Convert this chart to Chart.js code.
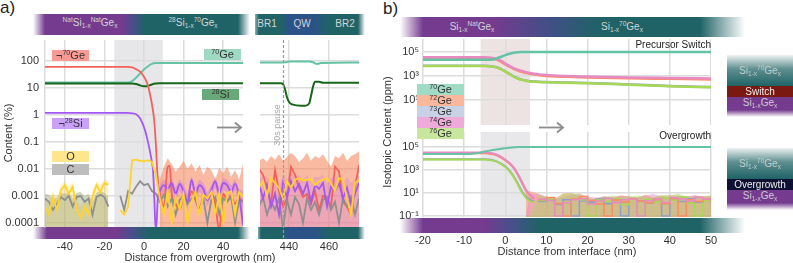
<!DOCTYPE html>
<html><head><meta charset="utf-8">
<script src="https://cdn.jsdelivr.net/npm/chart.js@4.4.1/dist/chart.umd.min.js"></script>
<style>
html,body{margin:0;padding:0;background:#fff;}
body{width:793px;height:263px;position:relative;overflow:hidden;font-family:"Liberation Sans",Arial,sans-serif;color:#333;}
canvas{position:absolute;}
.band{position:absolute;}
.bt{position:absolute;color:#d4d4d4;font-size:10px;line-height:12px;white-space:nowrap;transform:translate(-50%,0);}
sup,sub{font-size:0.65em;line-height:0;position:relative;vertical-align:baseline;}
sup{top:-0.55em;} sub{top:0.35em;}
.lg{position:absolute;height:11px;font-size:11px;line-height:11px;text-align:center;color:#333;white-space:nowrap;}
.rot{position:absolute;transform:translate(-50%,-50%) rotate(-90deg);white-space:nowrap;}
.t{position:absolute;white-space:nowrap;}
.blk{position:absolute;left:727px;width:66px;text-align:center;font-size:10px;white-space:nowrap;}
</style></head>
<body>
<!-- bands (behind charts) -->
<div class="band" style="left:33px;top:14px;width:217px;height:21px;background:linear-gradient(to right,rgba(116,59,143,0) 0px,#743b8f 12px,#743b8f 90px,#46508a 101px,#1f6366 112px,#1f6366 205px,rgba(31,99,102,0) 217px)"></div>
<div class="band" style="left:255px;top:14px;width:110px;height:21px;background:linear-gradient(to right,rgba(31,99,102,0.5) 0px,#1f6366 4px,#1f6366 27px,#2c5388 33px,#2c5388 58px,#1f6366 75px,#1f6366 103px,rgba(31,99,102,0) 110px)"></div>
<div class="band" style="left:33px;top:227px;width:217px;height:12px;background:linear-gradient(to right,rgba(116,59,143,0) 0px,#743b8f 14px,#743b8f 84px,#46508a 100px,#1f6366 117px,#1f6366 205px,rgba(31,99,102,0) 217px)"></div>
<div class="band" style="left:258px;top:227px;width:107px;height:12px;background:linear-gradient(to right,rgba(31,99,102,0.5) 0px,#1f6366 3px,#1f6366 24px,#2c5388 30px,#2c5388 55px,#1f6366 72px,#1f6366 100px,rgba(31,99,102,0) 107px)"></div>
<div class="band" style="left:400px;top:17px;width:345px;height:20px;background:linear-gradient(to right,rgba(116,59,143,0) 0px,#743b8f 23px,#743b8f 95px,#414f86 150px,#1f6366 200px,#1f6366 300px,rgba(31,99,102,0) 345px)"></div>
<div class="band" style="left:400px;top:218px;width:345px;height:15px;background:linear-gradient(to right,rgba(116,59,143,0) 0px,#743b8f 23px,#743b8f 85px,#46508a 112px,#1f6366 140px,#1f6366 300px,rgba(31,99,102,0) 345px)"></div>

<canvas id="aL" width="243" height="223" style="left:0;top:40px"></canvas>
<canvas id="aR" width="99" height="223" style="left:260px;top:40px"></canvas>
<canvas id="bT" width="321" height="86" style="left:390px;top:39px"></canvas>
<canvas id="bB" width="331" height="131" style="left:390px;top:132px"></canvas>

<!-- band texts -->
<div class="bt" style="left:90px;top:17px"><sup>Nat</sup>Si<sub>1-x</sub><sup>Nat</sup>Ge<sub>x</sub></div>
<div class="bt" style="left:193px;top:17px"><sup>28</sup>Si<sub>1-x</sub><sup>70</sup>Ge<sub>x</sub></div>
<div class="bt" style="left:267px;top:18px">BR1</div>
<div class="bt" style="left:302px;top:18px">QW</div>
<div class="bt" style="left:345px;top:18px">BR2</div>
<div class="bt" style="left:472px;top:21px">Si<sub>1-x</sub><sup>Nat</sup>Ge<sub>x</sub></div>
<div class="bt" style="left:622px;top:21px">Si<sub>1-x</sub><sup>70</sup>Ge<sub>x</sub></div>

<!-- panel labels / titles -->
<div class="t" style="left:0;top:-2px;font-size:17px;color:#222">a)</div>
<div class="t" style="left:383px;top:-1px;font-size:17px;color:#222">b)</div>
<div class="rot" style="left:8px;top:133px;font-size:11px">Content (%)</div>
<div class="rot" style="left:387px;top:132px;font-size:11px">Isotopic Content (ppm)</div>
<div class="t" style="left:200px;top:251px;font-size:11px;transform:translateX(-50%)">Distance from overgrowth (nm)</div>
<div class="t" style="left:567px;top:245px;font-size:11px;transform:translateX(-50%)">Distance from interface (nm)</div>
<div class="rot" style="left:277px;top:125px;font-size:9px;color:#a8a8a8">30s pause</div>
<div class="t" style="left:711px;top:39px;font-size:10px;color:#222;transform:translateX(-100%)">Precursor Switch</div>
<div class="t" style="left:711px;top:130px;font-size:10px;color:#222;transform:translateX(-100%)">Overgrowth</div>

<!-- legends panel a -->
<div class="lg" style="left:52px;top:50px;width:37px;background:#f99a95">¬<sup>70</sup>Ge</div>
<div class="lg" style="left:204px;top:49px;width:37px;background:#9fd8c3"><sup>70</sup>Ge</div>
<div class="lg" style="left:202px;top:89px;width:37px;background:#68a879"><sup>28</sup>Si</div>
<div class="lg" style="left:52px;top:118px;width:37px;background:#c9a2f7">¬<sup>28</sup>Si</div>
<div class="lg" style="left:52px;top:151px;width:37px;background:#fde68b">O</div>
<div class="lg" style="left:52px;top:164px;width:37px;background:#bdbdbd">C</div>
<!-- legends panel b -->
<div class="lg" style="left:417px;top:84px;width:47px;background:#a0dbc6"><sup>70</sup>Ge</div>
<div class="lg" style="left:417px;top:95px;width:47px;background:#f9b89c"><sup>72</sup>Ge</div>
<div class="lg" style="left:417px;top:106px;width:47px;background:#c8d1e6"><sup>73</sup>Ge</div>
<div class="lg" style="left:417px;top:117px;width:47px;background:#eeaad9"><sup>74</sup>Ge</div>
<div class="lg" style="left:417px;top:128px;width:47px;background:#c8e69d"><sup>76</sup>Ge</div>

<!-- arrows -->
<svg class="t" style="left:215px;top:121px" width="30" height="13"><line x1="2" y1="6.5" x2="26" y2="6.5" stroke="#8c8c8c" stroke-width="1.8"/><polyline points="20,1.5 26,6.5 20,11.5" fill="none" stroke="#8c8c8c" stroke-width="1.8"/></svg>
<svg class="t" style="left:537px;top:121px" width="30" height="13"><line x1="2" y1="6.5" x2="26" y2="6.5" stroke="#8c8c8c" stroke-width="1.8"/><polyline points="20,1.5 26,6.5 20,11.5" fill="none" stroke="#8c8c8c" stroke-width="1.8"/></svg>

<!-- right side stacks -->
<div class="blk" style="top:55px;height:31px;line-height:31px;color:#c2cccc;background:linear-gradient(to bottom,#eef2f2 0%,#5f8f90 45%,#1f6366 100%)">Si<sub>1-x</sub><sup>70</sup>Ge<sub>x</sub></div>
<div class="blk" style="top:86px;height:11px;line-height:11px;color:#eee;background:#7a1812">Switch</div>
<div class="blk" style="top:97px;height:13px;line-height:12px;color:#d0c8d6;background:#743b8f">Si<sub>1-x</sub>Ge<sub>x</sub></div>
<div class="blk" style="top:110px;height:7px;background:linear-gradient(to bottom,#743b8f,rgba(116,59,143,0))"></div>
<div class="blk" style="top:148px;height:31px;line-height:31px;color:#c2cccc;background:linear-gradient(to bottom,#eef2f2 0%,#5f8f90 45%,#1f6366 100%)">Si<sub>1-x</sub><sup>70</sup>Ge<sub>x</sub></div>
<div class="blk" style="top:179px;height:11px;line-height:11px;color:#eee;background:#0e1133">Overgrowth</div>
<div class="blk" style="top:190px;height:13px;line-height:12px;color:#d0c8d6;background:#743b8f">Si<sub>1-x</sub>Ge<sub>x</sub></div>
<div class="blk" style="top:203px;height:7px;background:linear-gradient(to bottom,#743b8f,rgba(116,59,143,0))"></div>

<script>
// ================= DATA: panel a =================
const aXTicks = [-40, -20, 0, 20, 40];
const aRXTicks = [440, 460];
const aYTicks = [0.0001, 0.001, 0.01, 0.1, 1, 10, 100];
const aYLabels = ['0.0001', '0.001', '0.01', '0.1', '1', '10', '100'];
const aShade = [-15, 9.5];
const aPause = 437;

// not-70Ge
const aGeNotX = [-50,-8,-6,-4,-2,0,1,2,3,4,5,5.5,6,6.5,7,8,10,12,13,14,16,18,20,22,24,26,28,30,32,34,36,38,40,42,44,46,48,50];
const aGeNotY = [60,60,58,50,40,26,19,12,6,2.5,0.8,0.3,0.08,0.015,0.004,0.0012,0.0004,0.012,0.013,0.0012,0.0005,0.0003,0.0009,0.0006,0.0015,0.0007,0.0003,0.001,0.0008,0.0012,0.0005,0.00005,0.0012,0.0007,0.001,0.0005,0.0008,0.0006];
// 70Ge
const aGe70X = [-50,-8,-6,-4,-2,0,2,4,6,8,50];
const aGe70Y = [16,16,18,24,34,48,64,78,84,85,85];
// 28Si
const aSi28X = [-50,-6,-4,-2,0,2,4,6,8,50];
const aSi28Y = [14.5,14.5,14,12.5,11.5,11.8,13.5,14.5,14.8,14.8];
// not-28Si
const aSiNotX = [-50,-8,-6,-4,-2,0,1,2,3,4,4.5,5,5.5,6,7,8,10,12,14,16,18,20,22,24,26,28,30,32,34,36,38,40,42,44,46,48,50];
const aSiNotY = [1.2,1.2,1.15,1.05,0.75,0.35,0.2,0.1,0.045,0.018,0.01,0.002,0.0002,0.00005,0.0008,0.0015,0.0025,0.0018,0.003,0.0012,0.0028,0.0015,0.0006,0.004,0.0012,0.0025,0.0018,0.0007,0.0016,0.0035,0.0012,0.003,0.0025,0.0014,0.0028,0.001,0.00008];
// O and C (2 nm grid)
const aNoiseX = [-50,-48,-46,-44,-42,-40,-38,-36,-34,-32,-30,-28,-26,-24,-22,-20,-18,-16,-14,-12,-10,-8,-6,-4,-2,0,2,4,6,8,10,12,14,16,18,20,22,24,26,28,30,32,34,36,38,40,42,44,46,48,50];
const aO = [0.0004,0.0002,0.0009,0.0003,0.0016,0.0025,0.0012,0.0022,0.0003,0.00015,0.0004,0.0002,0.0009,0.0025,0.0014,0.003,0.0026,null,null,0.0003,0.0002,0.0004,0.021,0.022,0.02,0.019,0.021,0.018,0.006,0.0008,0.0002,0.0015,0.0001,0.0009,0.0003,0.0012,0.0001,0.0006,0.0015,0.0002,0.0011,0.0008,0.0014,0.0002,0.0013,0.0001,0.0012,0.0015,0.0002,0.0014,0.0009];
const aC = [0.0008,0.0006,0.0003,0.0005,0.0009,0.0007,0.001,0.0004,0.0009,0.001,0.0006,0.0008,0.0002,0.0009,0.0011,0.0009,0.0004,null,null,0.001,0.0003,0.0015,0.0012,0.0022,0.0035,0.0025,0.0028,0.0015,0.0012,0.0006,0.0011,0.0004,0.0008,0.0002,0.0007,0.001,0.0005,0.0008,0.0009,0.0003,0.0008,0.0001,0.0007,0.0009,0.0002,0.0008,0.0006,0.0009,0.0001,0.0007,0.0006];
// uncertainty bands, left side (-50..-18)
const aLeftX = [-50,-48,-46,-44,-42,-40,-38,-36,-34,-32,-30,-28,-26,-24,-22,-20,-18];
const aCBandHi = [0.0012,0.0011,0.0008,0.0009,0.0013,0.0012,0.0014,0.0008,0.0013,0.0014,0.001,0.0012,0.0006,0.0013,0.0015,0.0013,0.0009];
const aOBandHi = [0.0008,0.0005,0.0015,0.0006,0.0025,0.0035,0.0022,0.0032,0.0006,0.0004,0.0008,0.0005,0.0016,0.0035,0.0025,0.004,0.0038];
// uncertainty bands, right side (8..50)
const aBandX = [8,10,12,14,16,18,20,22,24,26,28,30,32,34,36,38,40,42,44,46,48,50];
const aRedBandHi = [0.004,0.012,0.025,0.015,0.008,0.012,0.02,0.01,0.016,0.008,0.014,0.006,0.012,0.009,0.004,0.011,0.007,0.012,0.005,0.009,0.004,0.015];
const aPurBandHi = [0.0025,0.004,0.003,0.0045,0.002,0.0042,0.0025,0.0012,0.0055,0.002,0.004,0.003,0.0013,0.0026,0.005,0.002,0.0045,0.004,0.0024,0.0042,0.0018,0.0015];
const aPurBandLo = [0.0008,0.0014,0.001,0.0018,0.0006,0.0016,0.0008,0.0003,0.0025,0.0007,0.0014,0.001,0.0004,0.0009,0.002,0.0007,0.0017,0.0014,0.0008,0.0016,0.0005,0.0001];

// quantum well section (425..475)
const rGe70X = [425,436,438,440,442,450,452,454,456,475];
const rGe70Y = [88,88,90,95,96,95,90,78,84,88];
const rSi28X = [425,436,437,438,439,440,442,446,448,450,451,452,453,455,457,475];
const rSi28Y = [15,15,14,9,4.5,3,2.4,2.2,2.2,2.6,5,11,17,17,15.5,15.5];
const rNoiseX = [425,427,429,431,433,435,437,439,441,443,445,447,449,451,453,455,457,459,461,463,465,467,469,471,473,475];
const rRedBandHi = [0.02,0.025,0.018,0.03,0.022,0.035,0.02,0.028,0.04,0.03,0.018,0.025,0.04,0.02,0.03,0.025,0.035,0.02,0.012,0.03,0.025,0.04,0.02,0.03,0.035,0.045];
const rPurBandHi = [0.006,0.004,0.005,0.003,0.004,0.002,0.006,0.004,0.007,0.005,0.006,0.004,0.006,0.003,0.005,0.005,0.006,0.003,0.005,0.004,0.006,0.003,0.005,0.003,0.004,0.006];
const rO = [0.002,0.0035,0.001,0.0045,0.003,0.002,0.0008,0.0035,0.002,0.004,0.0045,0.0038,0.004,0.0042,0.0025,0.0035,0.004,0.0045,0.003,0.0015,0.0045,0.004,0.0008,0.0002,0.003,0.004];
const rSiNot = [0.003,0.0008,0.0025,0.0004,0.0012,0.0002,0.003,0.0009,0.0035,0.0015,0.0028,0.0012,0.003,0.0006,0.0025,0.0018,0.003,0.0004,0.0022,0.0015,0.003,0.0008,0.002,0.0005,0.0012,0.003];
const rGeNot = [0.01,0.006,0.002,0.0005,0.009,0.0015,0.0004,0.0008,0.012,0.006,0.002,0.0009,0.0012,0.0005,0.0015,0.0003,0.001,0.0008,0.0004,0.012,0.008,0.0006,0.0004,0.0002,0.002,0.014];
const rC = [0.0004,0.0009,0.0002,0.0006,0.0003,0.0008,0.00006,0.0007,0.0002,0.0009,0.0005,0.0001,0.0008,0.0003,0.0006,0.0002,0.0007,0.0009,0.0003,0.0006,0.0001,0.0008,0.0004,0.0009,0.0002,0.0008];

// ================= DATA: panel b =================
const bXTicks = [-20,-10,0,10,20,30,40,50];
const bYTicks = [0.1, 10, 1000, 100000];
const bYLabels = ['10⁻¹', '10¹', '10³', '10⁵'];
const bTopYTicks = [10, 1000, 100000];
const bTopYLabels = ['10¹', '10³', '10⁵'];
const bShade = [-6, 6];
// precursor switch
const sGe70X = [-20,-4,-3,-2,-1,0,1,2,3,4,50];
const sGe70Y = [2.2e4,2.2e4,2.4e4,3e4,4e4,5.5e4,7e4,8.5e4,9.5e4,1e5,1e5];
const sX = [-20,-5,-4,-3,-2,-1,0,1,2,3,4,5,6,8,10,15,20,30,40,50];
const sGe74Y = [3.6e4,3.6e4,3.5e4,3.2e4,2.6e4,1.8e4,1.1e4,7e3,4.6e3,3.4e3,2.6e3,2.1e3,1.8e3,1.4e3,1.2e3,1e3,900,750,680,620];
const sGe72Y = [3e4,3e4,2.9e4,2.7e4,2.2e4,1.5e4,9e3,6e3,3.9e3,2.9e3,2.2e3,1.8e3,1.5e3,1.2e3,1e3,850,760,640,580,520];
const sGe76Y = [6.8e3,6.8e3,6.6e3,6e3,5e3,3.6e3,2.3e3,1.4e3,900,620,480,400,350,320,300,270,250,190,140,115];
const sGe73Y = [7e3,7e3,6.8e3,6.2e3,5.2e3,3.8e3,2.4e3,1.5e3,950,650,500,420,370,335,310,280,260,200,150,120];
// overgrowth
const oGe70X = [-20,-9,-7,-5,-3,-1,1,3,50];
const oGe70Y = [2.4e4,2.4e4,2.8e4,4e4,5.5e4,7e4,8.5e4,1e5,1e5];
const oX = [-20,-5,-4,-3,-2,-1,0,1,2,3,4,5,6,7];
const oGe74Y = [3.3e4,3.3e4,3.1e4,2.7e4,2.1e4,1.4e4,8e3,4.3e3,1.8e3,500,100,20,7,3.5];
const oGe72Y = [2.8e4,2.8e4,2.6e4,2.3e4,1.8e4,1.2e4,6.8e3,3.6e3,1.5e3,400,80,16,6,3];
const oGe76Y = [8e3,8e3,7.5e3,6.5e3,5e3,3.2e3,1.8e3,800,250,60,12,4,2,1.5];
const oGe73Y = [8.5e3,8.5e3,8e3,7e3,5.4e3,3.5e3,2e3,900,300,70,15,5,2.5,1.8];
const oNoiseX = [8,10,12,14,16,18,20,22,24,26,28,30,32,34,36,38,40,42,44,46,48,50];
const oGe74N = [3,2.2,0.1,1.4,2.6,3.2,1.1,2,3.5,1.4,2.6,3,0.1,2.1,3,1.5,4,3,2,4.2,3,2.5];
const oGe72N = [2.6,4,1.2,0.1,3,5,2.2,1.1,0.1,2.4,1.6,3.2,2,1.4,2.8,1.2,3.4,0.1,2.6,1.8,3.1,2];
const oGe76N = [2.2,3,0.1,1.5,3.2,2.6,0.1,2.4,1.8,3.2,1,2.8,0.1,2.5,1.6,3.6,2.4,4.5,1.3,0.1,2.2,3.4];
const oGe73N = [1.8,2.4,1,2.6,0.1,2,1.6,3,1.2,2.2,0.1,3.2,2,1.4,2.8,0.1,2.6,1.8,3.2,1.6,2.4,1.6];
const oBandX = [5,6,8,10,12,14,16,18,20,22,24,26,28,30,32,34,36,38,40,42,44,46,48,50];
const oGe72Band = [15,14,9,4,3,9,10,5,3,3,5,4,6,5,4,7,4,6,3,5,5,6,5,5];
const oGe74Band = [0.1,8,8,5,3,4.5,7,9,5,4,5,3.5,6,5,4,6,8,5,7,6,5,6,5,6];
const oGe76Band = [0.1,0.1,6,5,2.5,8,10,8,4,3,5,6,4,5,6,5,4,7,6,9,5,4,5,6];

// ================= drawing =================
const GRID = '#dcdcdc';
const TF = {family: '"Liberation Sans", Arial, sans-serif', size: 11};
Chart.defaults.font.family = TF.family;

function P(xs, ys) { return xs.map((x, i) => ({x: x, y: ys[i]})); }
function L(xs, ys, color, w, smooth, stepped) {
  return {data: P(xs, ys), borderColor: color, backgroundColor: color, borderWidth: w, pointRadius: 0,
    fill: false, tension: 0, cubicInterpolationMode: smooth ? 'monotone' : 'default', stepped: !!stepped, spanGaps: false};
}
function B(xs, ys, color, fill) {
  return {data: P(xs, ys), borderColor: 'rgba(0,0,0,0)', borderWidth: 0, backgroundColor: color,
    pointRadius: 0, fill: fill || 'start', tension: 0, spanGaps: false};
}
function xS(min, max, ticks, h, pad, show) {
  return {type: 'linear', min: min, max: max,
    afterBuildTicks: s => { s.ticks = ticks.map(v => ({value: v})); },
    afterFit: s => { s.height = h; s.paddingLeft = 0; s.paddingRight = 0; },
    ticks: {display: show, padding: pad, font: TF, color: '#333', autoSkip: false, maxRotation: 0, callback: v => String(v)},
    grid: {color: GRID, lineWidth: 1.5, drawTicks: false}, border: {display: false}};
}
function yS(min, max, ticks, labels, w, pad, edge) {
  return {type: 'logarithmic', min: min, max: max,
    afterBuildTicks: s => { s.ticks = ticks.map(v => ({value: v})); },
    afterFit: s => { s.width = w; s.paddingTop = 0; s.paddingBottom = 0; },
    ticks: {display: !!labels, padding: pad, font: TF, color: '#333', autoSkip: false, callback: (v, i) => labels ? labels[i] : ''},
    grid: {color: GRID, lineWidth: 1.5, drawTicks: false}, border: {display: !!edge, color: GRID, width: 1.5}};
}
const deco = {
  id: 'deco',
  beforeDraw(chart, args, o) {
    if (!o.shade) return;
    const {ctx, chartArea: a, scales: {x}} = chart;
    const x0 = x.getPixelForValue(o.shade[0]), x1 = x.getPixelForValue(o.shade[1]);
    ctx.save(); ctx.fillStyle = o.color; ctx.fillRect(x0, a.top, x1 - x0, a.bottom - a.top); ctx.restore();
  },
  afterDraw(chart, args, o) {
    if (o.vline == null) return;
    const {ctx, scales: {x}} = chart;
    const px = Math.round(x.getPixelForValue(o.vline)) + 0.5;
    ctx.save(); ctx.strokeStyle = '#9a9a9a'; ctx.lineWidth = 1.2; ctx.setLineDash([3, 2]);
    ctx.beginPath(); ctx.moveTo(px, 0); ctx.lineTo(px, 200); ctx.stroke(); ctx.restore();
  }
};
function mk(id, datasets, scales, d, padRight) {
  return new Chart(document.getElementById(id), {
    type: 'line', data: {datasets: datasets},
    options: {responsive: false, animation: false, events: [], devicePixelRatio: 1,
      layout: {padding: {left: 0, top: 0, bottom: 0, right: padRight || 0}},
      plugins: {legend: {display: false}, tooltip: {enabled: false}, deco: d || {}}, scales: scales},
    plugins: [deco]});
}

const cRed = '#f4615c', cPur = '#a457f5', cYel = '#ffd42a', cGray = '#8f8f8f', cDk = '#17661a', cTeal = '#63c3a2';
const fRed = 'rgba(247,140,100,0.6)', fPur = 'rgba(205,120,225,0.45)';

mk('aL', [
  L(aNoiseX, aO, cYel, 1.8),
  L(aSiNotX, aSiNotY, cPur, 1.8, true),
  L(aNoiseX, aC, cGray, 1.8),
  L(aGeNotX, aGeNotY, cRed, 1.8, true),
  L(aSi28X, aSi28Y, cDk, 2, true),
  L(aGe70X, aGe70Y, cTeal, 2, true),
  B(aBandX, aPurBandHi, fPur, '+1'),
  B(aBandX, aPurBandLo, 'rgba(0,0,0,0)', false),
  B(aBandX, aRedBandHi, fRed),
  B(aLeftX, aCBandHi, 'rgba(165,172,130,0.5)'),
  B(aLeftX, aOBandHi, 'rgba(255,215,80,0.35)')
], {x: xS(-50, 50, aXTicks, 36, 13, true), y: yS(7e-5, 600, aYTicks, aYLabels, 45, 6, true)},
   {shade: aShade, color: '#e7e7ea'});

mk('aR', [
  L(rNoiseX, rO, cYel, 1.8),
  L(rNoiseX, rSiNot, cPur, 1.8),
  L(rNoiseX, rC, cGray, 1.8),
  L(rNoiseX, rGeNot, cRed, 1.8),
  L(rSi28X, rSi28Y, cDk, 2, true),
  L(rGe70X, rGe70Y, cTeal, 2, true),
  B(rNoiseX, rPurBandHi, 'rgba(205,120,225,0.3)'),
  B(rNoiseX, rRedBandHi, fRed)
], {x: xS(425.5, 475, aRXTicks, 36, 13, true), y: yS(7e-5, 600, aYTicks, null, 0, 0, false)},
   {vline: aPause});

const c70 = '#66c2a5', c72 = '#fc8d62', c73 = '#8da0cb', c74 = '#e78ac3', c76 = '#a6d854';
mk('bT', [
  L(sGe70X, sGe70Y, c70, 2.5, true),
  L(sX, sGe74Y, c74, 2.5, true),
  L(sX, sGe72Y, c72, 2.5, true),
  L(sX, sGe76Y, c76, 2.5, true),
  L(sX, sGe73Y, c73, 2.5, true)
], {x: xS(-20, 50, bXTicks, 0, 0, false), y: yS(0.083, 1.2e6, bTopYTicks, bTopYLabels, 33, 4, false)},
   {shade: bShade, color: '#eee3e3'});

mk('bB', [
  L(oGe70X, oGe70Y, c70, 2, true),
  L(oX, oGe74Y, c74, 2, true),
  L(oX, oGe72Y, c72, 2, true),
  L(oX, oGe76Y, c76, 2, true),
  L(oX, oGe73Y, c73, 2, true),
  L(oNoiseX, oGe74N, c74, 1.6, false, true),
  L(oNoiseX, oGe72N, c72, 1.6, false, true),
  L(oNoiseX, oGe76N, c76, 1.6, false, true),
  L(oNoiseX, oGe73N, c73, 1.6, false, true),
  B(oBandX, oGe76Band, 'rgba(166,216,84,0.45)'),
  B(oBandX, oGe74Band, 'rgba(231,138,195,0.5)'),
  B(oBandX, oGe72Band, 'rgba(252,141,98,0.5)')
], {x: xS(-20, 50, bXTicks, 46, 17, true), y: yS(0.082, 2e6, bYTicks, bYLabels, 33, 4, false)},
   {shade: bShade, color: '#e8e8ea'}, 10);
</script>
</body></html>
